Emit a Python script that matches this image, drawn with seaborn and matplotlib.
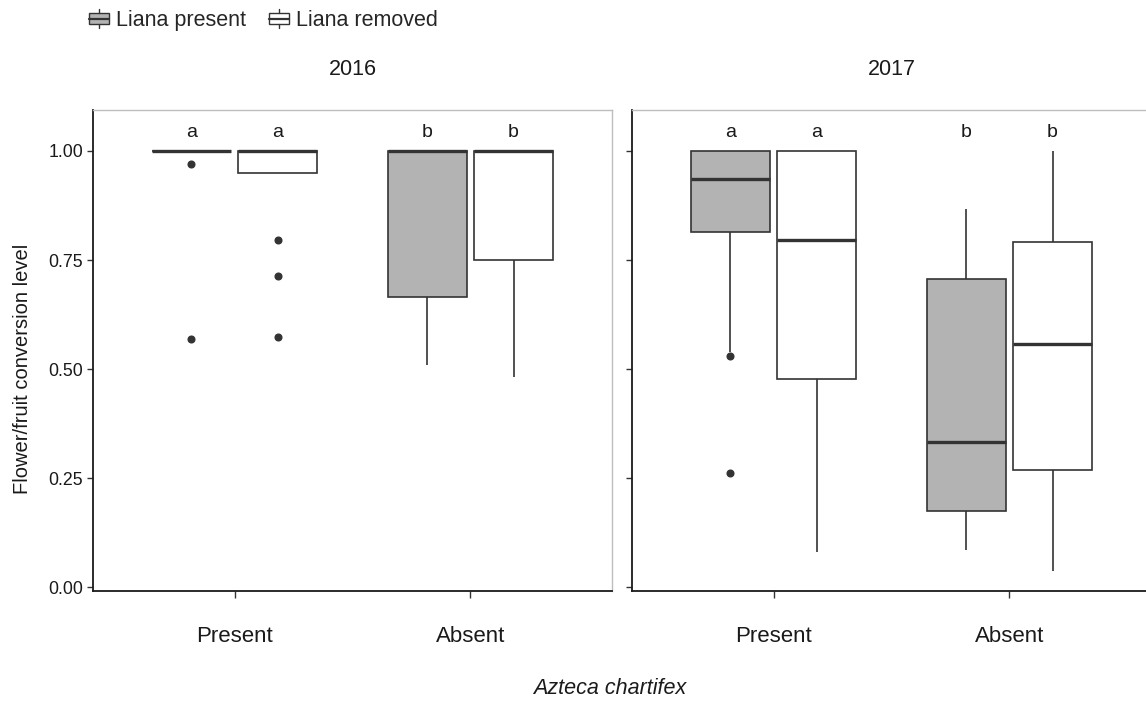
from __future__ import annotations

import matplotlib

matplotlib.use("Agg")
import matplotlib.pyplot as plt
import pandas as pd
import seaborn as sns
from matplotlib.legend_handler import HandlerBase
from matplotlib.lines import Line2D
from matplotlib.patches import Patch, Rectangle

YEARS = ["2016", "2017"]
AZTECA = ["Present", "Absent"]
LIANA = ["Liana present", "Liana removed"]

Y2016_PRESENT_LP = [0.569, 0.970, 1.0, 1.0, 1.0, 1.0, 1.0, 1.0, 1.0]
Y2016_PRESENT_LR = [0.573, 0.713, 0.796, 0.950, 0.970, 1.0, 1.0, 1.0, 1.0, 1.0, 1.0, 1.0, 1.0]
Y2016_ABSENT_LP = [0.509, 0.665, 1.0, 1.0, 1.0]
Y2016_ABSENT_LR = [0.482, 0.750, 1.0, 1.0, 1.0]
Y2017_PRESENT_LP = [0.262, 0.530, 0.538, 0.814, 0.850, 0.900, 0.936, 0.960, 0.980, 1.0, 1.0, 1.0, 1.0]
Y2017_PRESENT_LR = [0.080, 0.477, 0.796, 1.0, 1.0]
Y2017_ABSENT_LP = [0.085, 0.174, 0.333, 0.706, 0.867]
Y2017_ABSENT_LR = [0.037, 0.268, 0.557, 0.791, 1.0]

GROUPS = {
    ("2016", "Present", "Liana present"): Y2016_PRESENT_LP,
    ("2016", "Present", "Liana removed"): Y2016_PRESENT_LR,
    ("2016", "Absent", "Liana present"): Y2016_ABSENT_LP,
    ("2016", "Absent", "Liana removed"): Y2016_ABSENT_LR,
    ("2017", "Present", "Liana present"): Y2017_PRESENT_LP,
    ("2017", "Present", "Liana removed"): Y2017_PRESENT_LR,
    ("2017", "Absent", "Liana present"): Y2017_ABSENT_LP,
    ("2017", "Absent", "Liana removed"): Y2017_ABSENT_LR,
}

# significance letters, order: Present/LP, Present/LR, Absent/LP, Absent/LR
LETTERS = {
    "2016": ["a", "a", "b", "b"],
    "2017": ["a", "a", "b", "b"],
}

PALETTE = {"Liana present": "#B3B3B3", "Liana removed": "#FFFFFF"}
LINE = "#333333"
BOX_WIDTH = 0.73
W, H = 1146, 701


class BoxHandler(HandlerBase):
    def create_artists(self, legend, orig_handle, xdescent, ydescent, width, height, fontsize, trans):
        fc = orig_handle.get_facecolor()
        x0, y0 = -xdescent, -ydescent
        bh = height * 0.6
        by = y0 + (height - bh) / 2
        cx = x0 + width / 2
        rect = Rectangle((x0, by), width, bh, facecolor=fc, edgecolor=LINE, lw=1.0, transform=trans)
        med = Line2D([x0, x0 + width], [y0 + height / 2] * 2, color=LINE, lw=1.6, transform=trans)
        w1 = Line2D([cx, cx], [by + bh, y0 + height], color=LINE, lw=1.0, transform=trans)
        w2 = Line2D([cx, cx], [by, y0], color=LINE, lw=1.0, transform=trans)
        return [rect, med, w1, w2]


def build_frame() -> pd.DataFrame:
    rows = []
    for (year, az, li), vals in GROUPS.items():
        for v in vals:
            rows.append({"year": year, "azteca": az, "liana": li, "value": v})
    return pd.DataFrame(rows)


def main() -> None:
    sns.set_theme(style="white")
    plt.rcParams["font.family"] = ["Liberation Sans", "DejaVu Sans"]

    df = build_frame()
    fig = plt.figure(figsize=(W / 100, H / 100), dpi=100)
    ax1 = fig.add_axes([93 / W, (H - 591) / H, 519 / W, 481 / H])
    ax2 = fig.add_axes([632 / W, (H - 591) / H, 519 / W, 481 / H])

    for ax, year in zip([ax1, ax2], YEARS):
        sns.boxplot(
            data=df[df["year"] == year], x="azteca", y="value", hue="liana",
            order=AZTECA, hue_order=LIANA, palette=PALETTE, saturation=1,
            width=BOX_WIDTH, gap=0.09, whis=1.5, linecolor=LINE, linewidth=1.2,
            showcaps=False, legend=False, ax=ax,
            medianprops=dict(color=LINE, linewidth=2.4),
            whiskerprops=dict(color=LINE, linewidth=1.2),
            flierprops=dict(marker="o", markerfacecolor=LINE, markeredgecolor=LINE, markersize=4.8),
        )
        ax.set_xlim(-0.6, 1.6)
        ax.set_ylim(-0.009, 1.094)
        ax.set_yticks([0, 0.25, 0.5, 0.75, 1.0])
        ax.set_xlabel("")
        ax.set_ylabel("")
        ax.set_title(year, fontsize=15.5, pad=25, color="#1a1a1a")
        ax.tick_params(axis="x", bottom=True, labelsize=16, length=5, width=1, color=LINE,
                       pad=20, labelcolor="#1a1a1a")
        ax.tick_params(axis="y", left=True, labelsize=12.8, length=4, width=1, color=LINE,
                       pad=3, labelcolor="#1a1a1a")
        ax.yaxis.set_major_formatter(matplotlib.ticker.FormatStrFormatter("%.2f"))
        for side in ["left", "bottom"]:
            ax.spines[side].set_color("#1a1a1a")
            ax.spines[side].set_linewidth(1.3)
        for side in ["top", "right"]:
            ax.spines[side].set_color("#BDBDBD")
            ax.spines[side].set_linewidth(1.0)

        offsets = [-BOX_WIDTH / 4, BOX_WIDTH / 4]
        k = 0
        for i, _ in enumerate(AZTECA):
            for off in offsets:
                ax.text(i + off, 1.032, LETTERS[year][k], ha="center", va="baseline",
                        fontsize=14, color="#1a1a1a")
                k += 1

    ax2.tick_params(axis="y", labelleft=False)

    fig.text(23 / W, 1 - 369 / H, "Flower/fruit conversion level", rotation=90,
             ha="center", va="center", fontsize=14.5, color="#1a1a1a")
    fig.text(610 / W, 1 - 688 / H, "Azteca chartifex", ha="center", va="center",
             fontsize=15.5, style="italic", color="#1a1a1a")

    handles = [Patch(facecolor=PALETTE[l], edgecolor=LINE, label=l) for l in LIANA]
    fig.legend(
        handles=handles, labels=LIANA, handler_map={Patch: BoxHandler()},
        loc="upper left", bbox_to_anchor=(89 / W, 1 - 9 / H), ncol=2, frameon=False,
        fontsize=15.5, handlelength=0.93, handleheight=1.0, handletextpad=0.33,
        columnspacing=1.07, borderpad=0, borderaxespad=0,
    )

    fig.savefig("out.png", dpi=100)
    plt.close(fig)


if __name__ == "__main__":
    main()
